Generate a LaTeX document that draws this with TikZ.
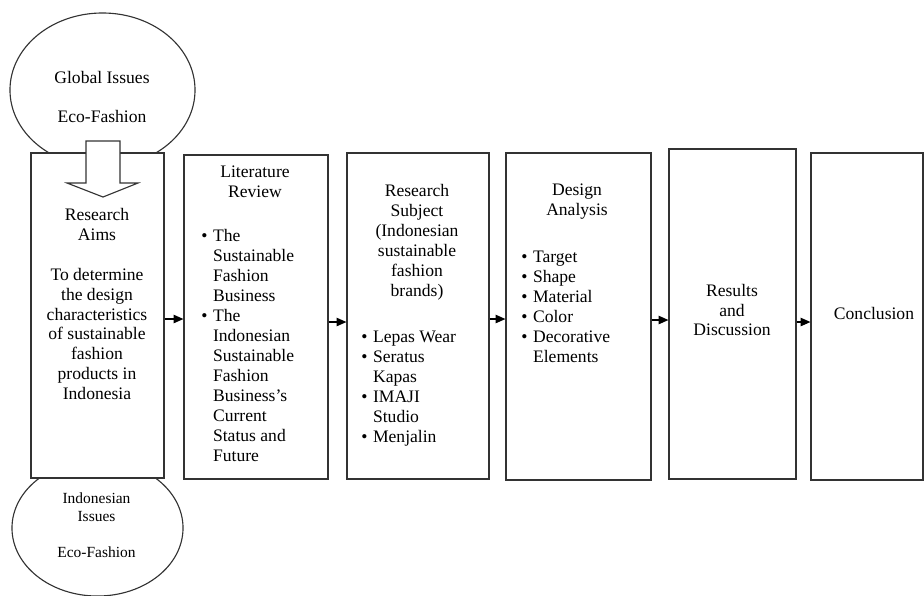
\documentclass[tikz,border=0pt]{standalone}
\usepackage{fontspec}
\setmainfont{Liberation Serif}
\newfontfamily\timesfont{Liberation Serif}
\usetikzlibrary{arrows.meta,shapes.geometric}

\tikzset{
  box/.style={draw=black!80, line width=0.8pt, fill=white, inner sep=0pt},
  oval/.style={ellipse, draw=black!80, line width=0.8pt, inner sep=0pt},
  txt/.style={inner sep=0pt, align=center, font=\timesfont\fontsize{12.5}{14.2}\selectfont},
  smalltxt/.style={inner sep=0pt, align=center, font=\timesfont\fontsize{11}{12.8}\selectfont},
  arr/.style={-{Triangle[length=7pt,width=6pt]}, line width=0.8pt}
}
\newcommand{\blist}[1]{\begin{tabular}{@{}l@{\hspace{4pt}}l@{}}#1\end{tabular}}

\begin{document}
\begin{tikzpicture}[x=0.025cm,y=-0.025cm]
      \useasboundingbox (0,0) rectangle (924,595);
      \node[oval, minimum width=4.625cm, minimum height=3.85cm] (global) at (102.5,90) {};
      \node[oval, minimum width=4.275cm, minimum height=3.4cm] (local) at (97.5,528) {};

      \node[box, minimum width=3.325cm, minimum height=8.125cm] (aims) at (97.5,315.5) {};
      \node[box, minimum width=3.6cm, minimum height=8.1cm] (review) at (256,317) {};
      \node[box, minimum width=3.55cm, minimum height=8.15cm] (subject) at (418,316) {};
      \node[box, minimum width=3.625cm, minimum height=8.175cm] (analysis) at (578.5,316.5) {};
      \node[box, minimum width=3.175cm, minimum height=8.25cm] (results) at (732.5,314) {};
      \node[box, minimum width=2.8cm, minimum height=8.175cm] (concl) at (867,316.5) {};

      % hollow arrow from the global issues down into the aims
      \draw[draw=black!80, line width=0.8pt, fill=white] (86,141) -- (120,141) -- (120,183)
      -- (138,183) -- (103,197) -- (67,183) -- (86,183) -- cycle;

      \node[txt] (globaltxt) at (102,97) {Global Issues\\[14.2pt]Eco-Fashion};
      \node[smalltxt] (localtxt) at (96.5,525) {Indonesian\\Issues\\[12.8pt]Eco-Fashion};

      \node[txt] (aimstxt) at (97,304) {Research\\Aims\\[14.2pt]To determine\\the design\\
      characteristics\\of sustainable\\fashion\\products in\\Indonesia};

      \node[txt] (reviewhd) at (255,182) {Literature\\Review};
      \node[txt, anchor=west] (reviewls) at (201,347.5) {\blist{\textbullet & The\\
      & Sustainable\\ & Fashion\\ & Business\\ \textbullet & The\\ & Indonesian\\
      & Sustainable\\ & Fashion\\ & Business’s\\ & Current\\ & Status and\\ & Future}};

      \node[txt] (subjecthd) at (417,242) {Research\\Subject\\(Indonesian\\sustainable\\fashion\\brands)};
      \node[txt, anchor=west] (subjectls) at (361,388.5) {\blist{\textbullet & Lepas Wear\\
      \textbullet & Seratus\\ & Kapas\\ \textbullet & IMAJI\\ & Studio\\ \textbullet & Menjalin}};

      \node[txt] (analysishd) at (577,202) {Design\\Analysis};
      \node[txt, anchor=west] (analysisls) at (521,308.5) {\blist{\textbullet & Target\\
      \textbullet & Shape\\ \textbullet & Material\\ \textbullet & Color\\
      \textbullet & Decorative\\ & Elements}};

      \node[txt] (resultstxt) at (732,310) {Results\\and\\Discussion};
      \node[txt] (concltxt) at (874,313) {Conclusion};

      \draw[arr] (aims.east |- 0,319) -- (review.west |- 0,319);
      \draw[arr] (review.east |- 0,322) -- (subject.west |- 0,322);
      \draw[arr] (subject.east |- 0,319) -- (analysis.west |- 0,319);
      \draw[arr] (analysis.east |- 0,320) -- (results.west |- 0,320);
      \draw[arr] (results.east |- 0,322) -- (concl.west |- 0,322);
    \end{tikzpicture}
\end{document}
